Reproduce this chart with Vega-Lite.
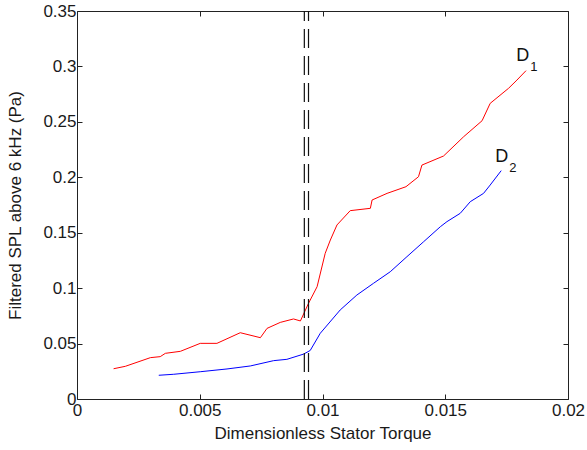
{
  "$schema": "https://vega.github.io/schema/vega-lite/v6.json",
  "width": 491,
  "height": 388,
  "autosize": {"type": "none"},
  "padding": {"left": 77, "top": 11, "right": 19, "bottom": 51},
  "background": "white",
  "config": {
    "view": {"stroke": "#222222", "strokeWidth": 1},
    "font": "Liberation Sans",
    "axis": {
      "grid": false,
      "domain": false,
      "labelFont": "Liberation Sans",
      "labelFontSize": 17,
      "labelColor": "#1a1a1a",
      "titleFont": "Liberation Sans",
      "titleFontSize": 17,
      "titleFontWeight": "normal",
      "titleColor": "#1a1a1a",
      "tickColor": "#222222",
      "tickSize": -5,
      "tickWidth": 1
    }
  },
  "datasets": {
    "curves": [
      {"series": "D1", "x": 0.00149, "y": 0.0273},
      {"series": "D1", "x": 0.00197, "y": 0.0295},
      {"series": "D1", "x": 0.00299, "y": 0.0373},
      {"series": "D1", "x": 0.00339, "y": 0.0382},
      {"series": "D1", "x": 0.0036, "y": 0.0412},
      {"series": "D1", "x": 0.00421, "y": 0.043},
      {"series": "D1", "x": 0.00502, "y": 0.0502},
      {"series": "D1", "x": 0.0057, "y": 0.0502},
      {"series": "D1", "x": 0.00665, "y": 0.0598},
      {"series": "D1", "x": 0.00747, "y": 0.0553},
      {"series": "D1", "x": 0.00774, "y": 0.0637},
      {"series": "D1", "x": 0.00828, "y": 0.0691},
      {"series": "D1", "x": 0.00882, "y": 0.0722},
      {"series": "D1", "x": 0.0091, "y": 0.0704},
      {"series": "D1", "x": 0.00943, "y": 0.0863},
      {"series": "D1", "x": 0.00978, "y": 0.1013},
      {"series": "D1", "x": 0.01011, "y": 0.1314},
      {"series": "D1", "x": 0.01032, "y": 0.1434},
      {"series": "D1", "x": 0.01059, "y": 0.157},
      {"series": "D1", "x": 0.01113, "y": 0.1699},
      {"series": "D1", "x": 0.01195, "y": 0.172},
      {"series": "D1", "x": 0.01202, "y": 0.1795},
      {"series": "D1", "x": 0.01263, "y": 0.1855},
      {"series": "D1", "x": 0.01340, "y": 0.1915},
      {"series": "D1", "x": 0.01391, "y": 0.2005},
      {"series": "D1", "x": 0.01405, "y": 0.211},
      {"series": "D1", "x": 0.01493, "y": 0.2192},
      {"series": "D1", "x": 0.01575, "y": 0.2366},
      {"series": "D1", "x": 0.0165, "y": 0.251},
      {"series": "D1", "x": 0.01683, "y": 0.2667},
      {"series": "D1", "x": 0.01758, "y": 0.2803},
      {"series": "D1", "x": 0.01792, "y": 0.2877},
      {"series": "D1", "x": 0.01829, "y": 0.2962},
      {"series": "D2", "x": 0.00333, "y": 0.0214},
      {"series": "D2", "x": 0.00394, "y": 0.0223},
      {"series": "D2", "x": 0.00502, "y": 0.0246},
      {"series": "D2", "x": 0.00611, "y": 0.0271},
      {"series": "D2", "x": 0.00706, "y": 0.0298},
      {"series": "D2", "x": 0.00801, "y": 0.0346},
      {"series": "D2", "x": 0.00855, "y": 0.0358},
      {"series": "D2", "x": 0.00923, "y": 0.0405},
      {"series": "D2", "x": 0.0095, "y": 0.0438},
      {"series": "D2", "x": 0.00991, "y": 0.0593},
      {"series": "D2", "x": 0.01072, "y": 0.0803},
      {"series": "D2", "x": 0.0114, "y": 0.0938},
      {"series": "D2", "x": 0.01208, "y": 0.1044},
      {"series": "D2", "x": 0.01276, "y": 0.1148},
      {"series": "D2", "x": 0.01344, "y": 0.1284},
      {"series": "D2", "x": 0.01412, "y": 0.1419},
      {"series": "D2", "x": 0.0148, "y": 0.1554},
      {"series": "D2", "x": 0.01507, "y": 0.16},
      {"series": "D2", "x": 0.01561, "y": 0.1675},
      {"series": "D2", "x": 0.01602, "y": 0.178},
      {"series": "D2", "x": 0.01656, "y": 0.1855},
      {"series": "D2", "x": 0.01683, "y": 0.193},
      {"series": "D2", "x": 0.01728, "y": 0.206}
    ],
    "limits": [
      {"x": 0.00926},
      {"x": 0.00943}
    ],
    "labels": [
      {"x": 0.01789, "y": 0.3049, "main": "D", "sub": "1", "xs": 0.018466, "ys": 0.2963},
      {"x": 0.01704, "y": 0.2141, "main": "D", "sub": "2", "xs": 0.01761, "ys": 0.205}
    ]
  },
  "layer": [
    {
      "data": {"name": "curves"},
      "mark": {"type": "line", "strokeWidth": 1, "interpolate": "linear"},
      "encoding": {
        "x": {
          "field": "x", "type": "quantitative",
          "scale": {"domain": [0, 0.02], "nice": false, "zero": false},
          "axis": {"orient": "bottom", "values": [0, 0.005, 0.01, 0.015, 0.02], "format": ".3~f", "title": "Dimensionless Stator Torque", "labelPadding": 8, "titlePadding": 7, "labelFlush": false}
        },
        "y": {
          "field": "y", "type": "quantitative",
          "scale": {"domain": [0, 0.35], "nice": false, "zero": false},
          "axis": {"orient": "left", "values": [0, 0.05, 0.1, 0.15, 0.2, 0.25, 0.3, 0.35], "format": ".2~f", "title": "Filtered SPL above 6 kHz (Pa)", "labelPadding": 6, "titlePadding": 18, "labelFlush": false}
        },
        "color": {
          "field": "series", "type": "nominal",
          "scale": {"domain": ["D1", "D2"], "range": ["#ff0000", "#0000ff"]},
          "legend": null
        }
      }
    },
    {
      "data": {"name": "limits"},
      "mark": {"type": "rule", "color": "#111111", "strokeWidth": 1.2, "strokeDash": [19, 8]},
      "encoding": {
        "x": {
          "field": "x", "type": "quantitative",
          "axis": {"orient": "top", "values": [0, 0.005, 0.01, 0.015, 0.02], "labels": false, "title": null}
        },
        "y": {"datum": 0, "type": "quantitative", "axis": {"orient": "right", "values": [0, 0.05, 0.1, 0.15, 0.2, 0.25, 0.3, 0.35], "labels": false, "title": null}},
        "y2": {"datum": 0.35}
      }
    },
    {
      "data": {"name": "labels"},
      "mark": {"type": "text", "fontSize": 18, "align": "left", "baseline": "alphabetic", "color": "#111111", "font": "Liberation Sans"},
      "encoding": {
        "x": {"field": "x", "type": "quantitative", "axis": null},
        "y": {"field": "y", "type": "quantitative", "axis": null},
        "text": {"field": "main"}
      }
    },
    {
      "data": {"name": "labels"},
      "mark": {"type": "text", "fontSize": 13, "align": "left", "baseline": "alphabetic", "color": "#111111", "font": "Liberation Sans"},
      "encoding": {
        "x": {"field": "xs", "type": "quantitative", "axis": null},
        "y": {"field": "ys", "type": "quantitative", "axis": null},
        "text": {"field": "sub"}
      }
    }
  ],
  "resolve": {"axis": {"x": "independent", "y": "independent"}}
}
